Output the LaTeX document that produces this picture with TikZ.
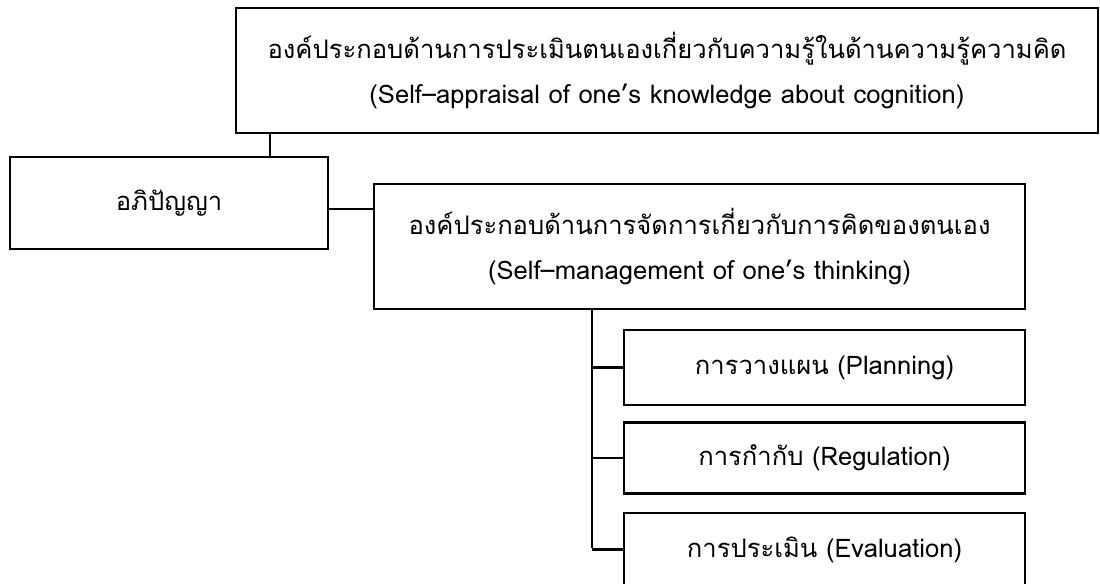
\documentclass[tikz,border=0pt]{standalone}
\usepackage{fontspec}
\newfontfamily\thaifont[Script=Thai]{Loma}
\usepackage{tikz}
\usetikzlibrary{positioning, calc}

\tikzset{
  box/.style={draw=black, line width=1.8pt, fill=white, inner sep=0pt,
              align=center, font=\thaifont\fontsize{18.2pt}{32pt}\selectfont},
  link/.style={draw=black, line width=1.6pt}
}

\begin{document}
\begin{tikzpicture}[x=0.025cm, y=-0.025cm]
    \useasboundingbox (0,0) rectangle (1100,584);
    % top level box
    \node[box, minimum width=21.55cm, minimum height=3.125cm] (appr) at (667,70.5)
      {องค์ประกอบด้านการประเมินตนเองเกี่ยวกับความรู้ในด้านความรู้ความคิด\\
       (Self–appraisal of one’s knowledge about cognition)};
    % metacognition box
    \node[box, minimum width=7.95cm, minimum height=2.3cm] (meta) at (169,203)
      {อภิปัญญา};
    % self-management box
    \node[box, minimum width=16.275cm, minimum height=3.125cm] (mgmt) at (699.5,246.5)
      {องค์ประกอบด้านการจัดการเกี่ยวกับการคิดของตนเอง\\
       (Self–management of one’s thinking)};
    % sub boxes
    \foreach \n/\yy/\hh/\lbl in {
        plan/367.5/1.875cm/การวางแผน (Planning),
        regu/458/1.775cm/การกำกับ (Regulation),
        eval/549.5/1.825cm/การประเมิน (Evaluation)} {
      \node[box, minimum width=10.025cm, minimum height=\hh] (\n) at (824.5,\yy) {\lbl};
    }
    % connectors
    \coordinate (up) at (270,0);
    \coordinate (bus) at (592,0);
    \draw[link] (appr.south -| up) -- (meta.north -| up);
    \draw[link] ($(meta.east)+(0,6)$) -- ($(meta.east -| mgmt.west)+(0,6)$);
    \draw[link] (mgmt.south -| bus) -- ($(eval.west -| bus)+(0,-1.5)$);
    \foreach \n in {plan,regu,eval} {
      \draw[link] (\n.west -| bus) -- (\n.west);
    }
\end{tikzpicture}
\end{document}
